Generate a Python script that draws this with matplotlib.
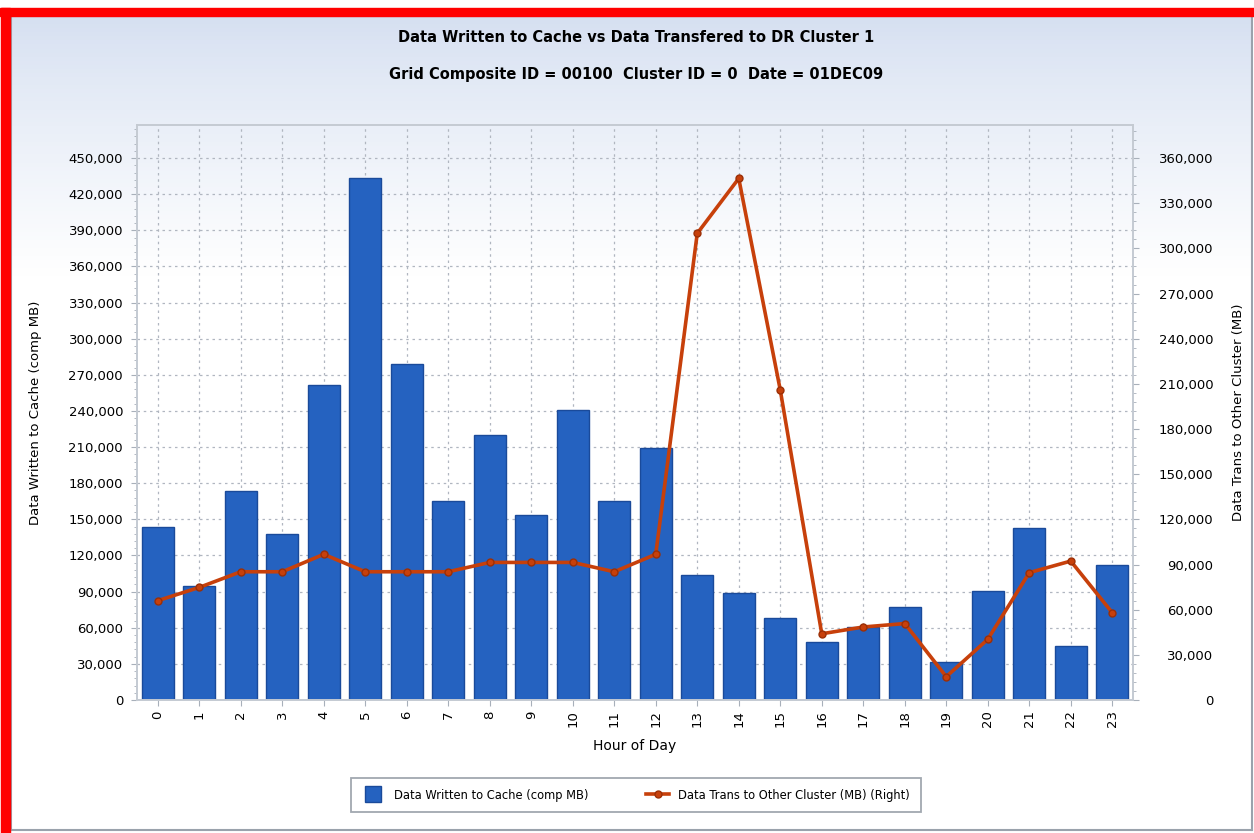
import numpy as np
import matplotlib
matplotlib.use('Agg')
import matplotlib.pyplot as plt
from matplotlib.lines import Line2D
from matplotlib.patches import Rectangle
from matplotlib.ticker import MultipleLocator, StrMethodFormatter

# Datos
hours = list(range(24))
cache_mb = [144000, 95000, 173500, 138000, 262000, 433500, 279000, 165500,
            220000, 153500, 240500, 165500, 209000, 104000, 89000, 68500,
            47800, 60600, 77000, 31500, 90500, 142500, 45000, 112000]
trans_mb = [66000, 74800, 85200, 85200, 96800, 85200, 85200, 85200,
            91400, 91400, 91400, 85200, 96800, 310000, 346500, 206000,
            44000, 48500, 50800, 15500, 40300, 84600, 92300, 58000]

left_ticks = list(range(0, 450001, 30000))
right_ticks = list(range(0, 360001, 30000))

title1 = 'Data Written to Cache vs Data Transfered to DR Cluster 1'
title2 = 'Grid Composite ID = 00100  Cluster ID = 0  Date = 01DEC09'

bar_col = '#2562C0'
bar_edge = '#1A4A9A'
line_col = '#C7400B'
grid_col = '#B0B6C0'
axis_col = '#A8B0BA'

W, H = 1254, 833
fig = plt.figure(figsize=(W / 100, H / 100), dpi=100)
fig.patch.set_facecolor('white')

# panel de fondo con degradado
bg = fig.add_axes([11 / W, 1 - 830 / H, (1252 - 11) / W, (830 - 16) / H], zorder=-10)
grad = np.ones((200, 1, 3))
top = np.array([0.835, 0.875, 0.945])
t = np.clip(np.linspace(0, 1, 200) / 0.32, 0, 1)[:, None] ** 0.8
grad[:, 0, :] = top * (1 - t) + np.array([1.0, 1.0, 1.0]) * t
bg.imshow(grad, aspect='auto', extent=[0, 1, 0, 1], origin='upper')
bg.set_xticks([])
bg.set_yticks([])
for s in bg.spines.values():
    s.set_color('#9AA2AC')
    s.set_linewidth(1.5)

# borde rojo
fig.patches.append(Rectangle((0, 1 - 16 / H), 1, 8 / H, transform=fig.transFigure,
                             color='#FF0000', zorder=5))
fig.patches.append(Rectangle((1 / W, 0), 9 / W, 1 - 8 / H, transform=fig.transFigure,
                             color='#FF0000', zorder=5))

ax = fig.add_axes([137 / W, 1 - 700 / H, 996 / W, 575 / H])
ax.patch.set_alpha(0)
ax.set_axisbelow(True)
ax.bar(hours, cache_mb, width=0.77, color=bar_col, edgecolor=bar_edge, linewidth=1, zorder=2)
ax.set_xlim(-0.5, 23.5)
ax.set_ylim(0, 477500)
ax.set_yticks(left_ticks)
ax.yaxis.set_minor_locator(MultipleLocator(6000))
ax.yaxis.set_major_formatter(StrMethodFormatter('{x:,.0f}'))
ax.set_xticks(hours)
ax.set_xticklabels([str(h) for h in hours], rotation=90)
ax.grid(True, which='major', linestyle=(0, (2, 3)), color=grid_col, linewidth=0.9)
ax.tick_params(axis='both', which='major', colors=axis_col, labelcolor='black',
               labelsize=9.5, length=4)
ax.tick_params(axis='y', which='minor', colors=axis_col, length=2.5)
ax.tick_params(axis='y', pad=6)
for s in ax.spines.values():
    s.set_color('#C4CAD2')
    s.set_linewidth(1.2)

ax.set_xlabel('Hour of Day', fontsize=10, labelpad=8)
ax.set_ylabel('Data Written to Cache (comp MB)', fontsize=9.5)
ax.yaxis.set_label_coords(-0.095, 0.5)

ax2 = ax.twinx()
ax2.plot(hours, trans_mb, color=line_col, linewidth=2.6, marker='o', markersize=5,
         markerfacecolor=line_col, markeredgecolor='#9C2F06', zorder=3)
ax2.set_ylim(0, 382000)
ax2.set_yticks(right_ticks)
ax2.yaxis.set_minor_locator(MultipleLocator(6000))
ax2.yaxis.set_major_formatter(StrMethodFormatter('{x:,.0f}'))
ax2.tick_params(axis='y', which='major', colors=axis_col, labelcolor='black',
                labelsize=9.5, length=4, pad=54)
ax2.tick_params(axis='y', which='minor', colors=axis_col, length=2.5)
for lbl in ax2.get_yticklabels():
    lbl.set_horizontalalignment('right')
for s in ax2.spines.values():
    s.set_color('#C4CAD2')
    s.set_linewidth(1.2)
ax2.set_ylabel('Data Trans to Other Cluster (MB)', fontsize=9.5)
ax2.yaxis.set_label_coords(1.0994, 0.5)

fig.text(636 / W, 1 - 37 / H, title1, ha='center', va='center',
         fontsize=10.5, fontweight='bold')
fig.text(636 / W, 1 - 74 / H, title2, ha='center', va='center',
         fontsize=10.5, fontweight='bold')

handles = [
    Line2D([], [], marker='s', markersize=11, color=bar_col, markeredgecolor=bar_edge,
           linestyle='none'),
    Line2D([], [], color=line_col, linewidth=2.6, marker='o', markersize=5,
           markeredgecolor='#9C2F06'),
]
labels = ['Data Written to Cache (comp MB)', 'Data Trans to Other Cluster (MB) (Right)']
leg = fig.legend(handles, labels, loc='center', ncol=2,
                 bbox_to_anchor=(636 / W, 1 - 795 / H),
                 fontsize=8.3, frameon=True, fancybox=False, handlelength=2.0,
                 columnspacing=5.0, borderpad=0.9, borderaxespad=0)
leg.get_frame().set_edgecolor('#8A929C')
leg.get_frame().set_linewidth(1.3)

fig.savefig('out.png', dpi=100, facecolor=fig.get_facecolor())
